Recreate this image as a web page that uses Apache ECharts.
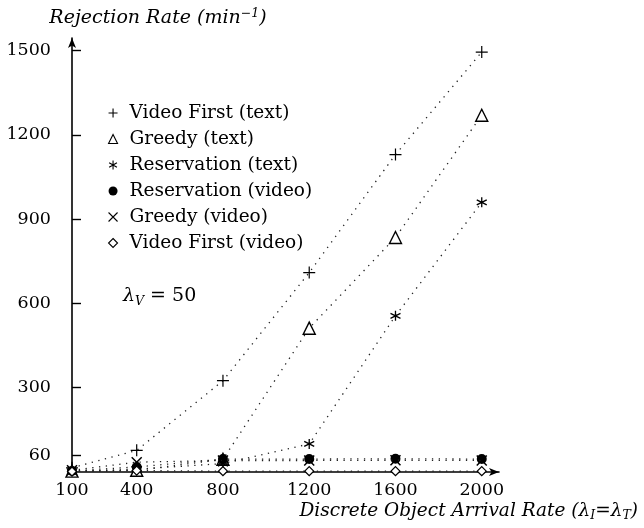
<!DOCTYPE html>
<html>
<head>
<meta charset="utf-8">
<script src="https://cdn.jsdelivr.net/npm/echarts@6/dist/echarts.min.js"></script>
<style>
  html, body { margin: 0; padding: 0; background: #fff; }
  #chart { width: 644px; height: 528px; }
</style>
</head>
<body>
<div id="chart"></div>
<script>
// Arrival rates of discrete objects (x) and rejection rates per minute (y)
const arrivalRates = [100, 400, 800, 1200, 1600, 2000];

const videoFirstText   = [15, 77, 325, 710, 1130, 1495];
const greedyText       = [3, 6, 45, 512, 835, 1270];
const reservationText  = [2, 10, 30, 100, 556, 960];
const reservationVideo = [4, 18, 46, 46, 47, 46];
const greedyVideo      = [6, 35, 41, 41, 42, 41];
const videoFirstVideo  = [2, 5, 3, 3, 3, 3];

const xTickLabels = [100, 400, 800, 1200, 1600, 2000];
const yTickLabels = [60, 300, 600, 900, 1200, 1500];

const seriesNames = [
  'Video First (text)',
  'Greedy (text)',
  'Reservation (text)',
  'Reservation (video)',
  'Greedy (video)',
  'Video First (video)'
];

// Marker shapes (stroked outlines for +, * and x)
const PLUS = 'path://M0,-10L0,10M-10,0L10,0';
const STAR = 'path://M0,-10L0,10M-8.66,-5L8.66,5M-8.66,5L8.66,-5';
const CROSS = 'path://M-7,-7L7,7M-7,7L7,-7';

const FONT = 'DejaVu Serif';
const plain = v => String(v);

const markerDefs = [
  { values: videoFirstText,   symbol: PLUS,       size: 12, fill: 'transparent', bw: 1.2 },
  { values: greedyText,       symbol: 'triangle', size: 12, fill: '#fff',        bw: 1.4 },
  { values: reservationText,  symbol: STAR,       size: 10, fill: 'transparent', bw: 1.3 },
  { values: reservationVideo, symbol: 'circle',   size: 10, fill: '#000',        bw: 0 },
  { values: greedyVideo,      symbol: CROSS,      size: 10, fill: 'transparent', bw: 1.5 },
  { values: videoFirstVideo,  symbol: 'diamond',  size: 9,  fill: '#fff',        bw: 1.3 }
];

const series = markerDefs.map((d, i) => ({
  name: seriesNames[i],
  type: 'line',
  data: arrivalRates.map((x, k) => [x, d.values[k]]),
  symbol: d.symbol,
  symbolSize: d.size,
  showAllSymbol: true,
  z: 2 + i,
  itemStyle: { color: d.fill, borderColor: '#000', borderWidth: d.bw },
  lineStyle: { color: '#222', width: 1.3, type: [1.3, 5.5] },
  emphasis: { disabled: true }
}));

const legendData = markerDefs.map((d, i) => ({
  name: seriesNames[i],
  icon: d.symbol,
  itemStyle: { color: d.fill, borderColor: '#000', borderWidth: d.bw === 0 ? 0 : 1.1 }
}));

const chart = echarts.init(document.getElementById('chart'), null, { renderer: 'canvas' });

chart.setOption({
  animation: false,
  backgroundColor: '#fff',
  textStyle: { fontFamily: FONT, color: '#000' },
  grid: { left: 72, right: 145, top: 38, bottom: 56, containLabel: false },
  legend: {
    orient: 'vertical',
    left: 103,
    top: 98,
    itemWidth: 9,
    itemHeight: 9,
    itemGap: 6,
    selectedMode: false,
    data: legendData,
    textStyle: {
      fontFamily: FONT, fontSize: 18.5, color: '#000',
      lineHeight: 20, padding: [0, 0, 0, 7]
    }
  },
  xAxis: {
    type: 'value',
    min: 100,
    max: 2080,
    splitLine: { show: false },
    axisLine: {
      lineStyle: { color: '#000', width: 1.6 },
      symbol: ['none', 'arrow'],
      symbolSize: [6, 10]
    },
    axisTick: { show: false },
    axisLabel: {
      customValues: xTickLabels,
      formatter: plain,
      fontFamily: FONT, fontSize: 17.5, color: '#000', margin: 9
    },
    name: '{t|Discrete Object Arrival Rate (λ}{s|I}{t|=λ}{s|T}{t|)}',
    nameLocation: 'end',
    nameGap: 139,
    nameTextStyle: {
      align: 'right',
      verticalAlign: 'top',
      padding: [28, 0, 0, 0],
      rich: {
        t: { fontFamily: FONT, fontStyle: 'italic', fontSize: 18.5, color: '#000', lineHeight: 22 },
        s: { fontFamily: FONT, fontStyle: 'italic', fontSize: 12.5, color: '#000', lineHeight: 22, verticalAlign: 'bottom' }
      }
    }
  },
  yAxis: {
    type: 'value',
    min: 0,
    max: 1545,
    splitLine: { show: false },
    axisLine: {
      lineStyle: { color: '#000', width: 1.6 },
      symbol: ['none', 'arrow'],
      symbolSize: [6, 10]
    },
    axisTick: {
      customValues: yTickLabels,
      inside: true,
      length: 9,
      lineStyle: { color: '#000', width: 1.4 }
    },
    axisLabel: {
      customValues: yTickLabels,
      formatter: plain,
      fontFamily: FONT, fontSize: 17.5, color: '#000', margin: 21
    },
    name: '{t|Rejection Rate (min}{p|−1}{t|)}',
    nameLocation: 'end',
    nameGap: 20,
    nameTextStyle: {
      align: 'center',
      verticalAlign: 'middle',
      padding: [0, 0, 0, 172],
      rich: {
        t: { fontFamily: FONT, fontStyle: 'italic', fontSize: 19, color: '#000', lineHeight: 22 },
        p: { fontFamily: FONT, fontStyle: 'italic', fontSize: 12.5, color: '#000', lineHeight: 22, verticalAlign: 'top' }
      }
    }
  },
  graphic: [{
    type: 'text',
    left: 123,
    top: 287,
    style: {
      text: '{l|λ}{s|V}{n| = 50}',
      rich: {
        l: { fontFamily: FONT, fontStyle: 'italic', fontSize: 19, fill: '#000', lineHeight: 24 },
        s: { fontFamily: FONT, fontStyle: 'italic', fontSize: 12.5, fill: '#000', lineHeight: 24, verticalAlign: 'bottom' },
        n: { fontFamily: FONT, fontSize: 19, fill: '#000', lineHeight: 24 }
      }
    }
  }],
  series: series
});
</script>
</body>
</html>
